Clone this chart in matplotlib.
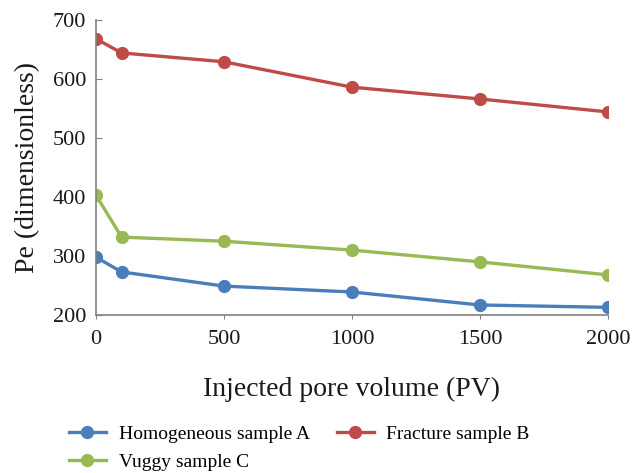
import matplotlib
matplotlib.use("Agg")
import matplotlib.pyplot as plt

pv = [0, 100, 500, 1000, 1500, 2000]
pe_a = [298, 273, 249, 239, 217, 213]
pe_b = [668, 644, 629, 586, 566, 544]
pe_c = [403, 332, 325, 310, 290, 268]
labels = ["Homogeneous sample A", "Fracture sample B", "Vuggy sample C"]
colors = ["#4A7EBB", "#BE4B48", "#98B954"]

plt.rcParams["font.family"] = ["Liberation Serif", "DejaVu Serif"]

fig = plt.figure(figsize=(6.44, 4.73), dpi=100)
ax = fig.add_axes([0.149, 0.334, 0.795, 0.624])

lines = []
for y, lab, c in zip([pe_a, pe_b, pe_c], labels, colors):
    ln, = ax.plot(pv, y, color=c, lw=2.4, marker="o", ms=8.5, label=lab)
    lines.append(ln)

ax.set_xlim(0, 2000)
ax.set_ylim(200, 700)
ax.set_xticks([0, 500, 1000, 1500, 2000])
ax.set_yticks([200, 300, 400, 500, 600, 700])
for s in ["top", "right"]:
    ax.spines[s].set_visible(False)
for s in ["left", "bottom"]:
    ax.spines[s].set_color("#808080")
    ax.spines[s].set_linewidth(1.2)
ax.tick_params(axis="both", labelsize=16, colors="#808080", labelcolor="#1a1a1a")
ax.tick_params(axis="y", direction="in", length=4, pad=7)
ax.tick_params(axis="x", direction="out", length=3, pad=8)
for lbl in ax.get_xticklabels() + ax.get_yticklabels():
    lbl.set_clip_on(False)

ax.set_xlabel("Injected pore volume (PV)", fontsize=20, color="#1a1a1a", labelpad=20)
ax.set_ylabel("Pe (dimensionless)", fontsize=20, color="#1a1a1a", labelpad=9)

# row 1: A, B ; row 2: C
order = [lines[0], lines[2], lines[1]]
fig.legend(order, [l.get_label() for l in order], loc="upper left",
           bbox_to_anchor=(0.095, 0.118), ncol=2, frameon=False,
           fontsize=14, handlelength=1.9, columnspacing=1.4, labelspacing=0.55,
           handletextpad=0.65, borderaxespad=0)

fig.savefig("out.png", dpi=100)
